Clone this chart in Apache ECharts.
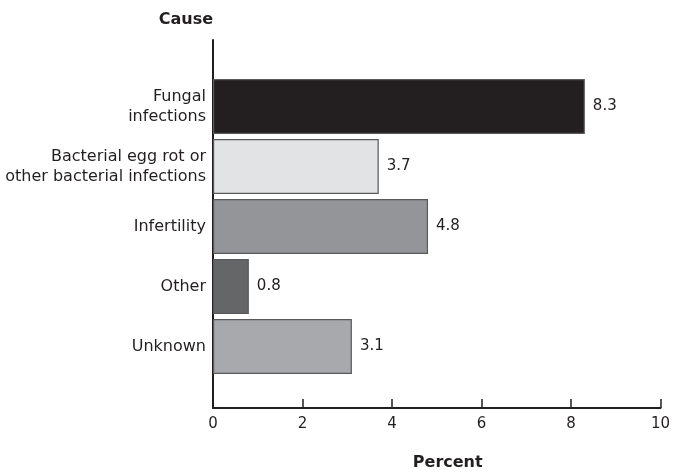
<!DOCTYPE html>
<html><head><meta charset="utf-8">
<script src="https://cdn.jsdelivr.net/npm/echarts@6/dist/echarts.min.js"></script>
<style>html,body{margin:0;padding:0;background:#fff;overflow:hidden}#c{width:673px;height:476px}</style>
</head><body><div id="c"></div>
<script>
// Data (top-to-bottom order as displayed)
const categories = ['Fungal\ninfections', 'Bacterial egg rot or\nother bacterial infections', 'Infertility', 'Other', 'Unknown'];
const values = [8.3, 3.7, 4.8, 0.8, 3.1];
const barColors = ['#231f20', '#e2e3e4', '#939598', '#656668', '#a7a9ac'];
const xTicks = [0, 2, 4, 6, 8, 10];

const FONT = 'DejaVu Sans';
const chart = echarts.init(document.getElementById('c'), null, {renderer: 'canvas', width: 673, height: 476});
chart.setOption({
  animation: false,
  backgroundColor: '#fff',
  textStyle: {fontFamily: FONT},
  grid: [
    {left: 213, width: 448, top: 40, height: 373},
    {left: 213, width: 448, top: 76.5, height: 300}
  ],
  xAxis: [
    {
      gridIndex: 0, type: 'value', min: xTicks[0], max: xTicks[xTicks.length - 1], interval: 2,
      axisLine: {show: true, lineStyle: {color: '#231f20', width: 2}},
      axisTick: {show: true, inside: true, length: 9, lineStyle: {color: '#231f20', width: 1.5}},
      axisLabel: {color: '#231f20', fontSize: 15, fontFamily: FONT, margin: 9},
      splitLine: {show: false},
      name: 'Percent', nameLocation: 'middle', nameGap: 47,
      nameTextStyle: {color: '#231f20', fontSize: 16, fontWeight: 'bold', fontFamily: FONT, padding: [0, 0, 0, 22]}
    },
    {
      gridIndex: 1, type: 'value', min: 0, max: 10, show: false
    }
  ],
  yAxis: [
    {
      gridIndex: 0, type: 'value', min: 0, max: 1,
      axisLine: {show: true, lineStyle: {color: '#231f20', width: 2}},
      axisTick: {show: false}, axisLabel: {show: false}, splitLine: {show: false},
      name: 'Cause', nameLocation: 'end', nameGap: 12,
      nameTextStyle: {color: '#231f20', fontSize: 16, fontWeight: 'bold', fontFamily: FONT, align: 'right', verticalAlign: 'bottom'}
    },
    {
      gridIndex: 1, type: 'category', inverse: true, data: categories,
      axisLine: {show: false}, axisTick: {show: false},
      axisLabel: {color: '#231f20', fontSize: 16, fontFamily: FONT, margin: 7, lineHeight: 20, align: 'right'}
    }
  ],
  series: [{
    type: 'bar', xAxisIndex: 1, yAxisIndex: 1, barWidth: 55,
    data: values.map((v, i) => ({value: v, itemStyle: {color: barColors[i]}})),
    itemStyle: {borderColor: '#58595b', borderWidth: 1.2},
    label: {show: true, position: 'right', distance: 8, color: '#231f20', fontSize: 15, fontFamily: FONT,
      formatter: p => p.value.toFixed(1)}
  }]
});
</script></body></html>
